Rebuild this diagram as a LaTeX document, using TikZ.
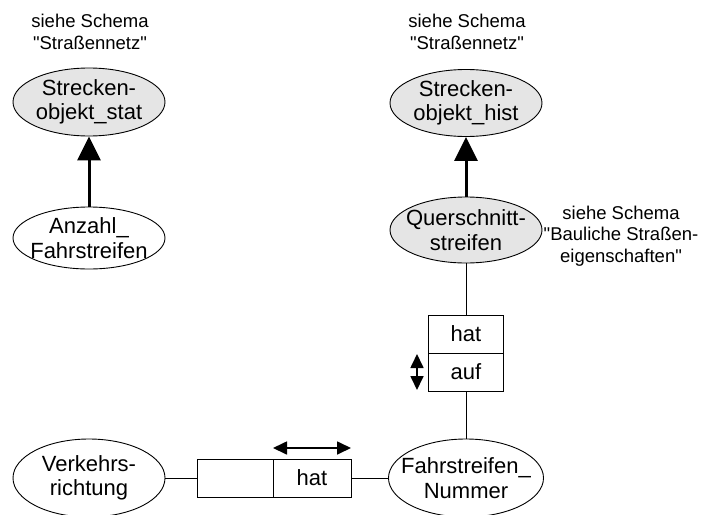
\documentclass[tikz,border=0pt]{standalone}
\usepackage{fontspec}
\setmainfont{Liberation Sans}
\usetikzlibrary{shapes.geometric,arrows.meta}

\begin{document}
\begin{tikzpicture}[x=1pt, y=-1pt, line width=0.9pt,
    ent/.style={shape=ellipse, draw, inner xsep=-10pt, inner ysep=0pt, minimum width=152pt, minimum height=68pt, align=center, font=\fontsize{22}{24.5}\selectfont},
    rel/.style={shape=rectangle, draw, minimum width=76pt, minimum height=38pt, inner sep=0pt, font=\fontsize{22}{24.5}\selectfont},
    note/.style={align=center, font=\fontsize{18.5}{21.5}\selectfont},
    isa/.style={line width=3pt, -{Triangle[length=24pt, width=23pt]}},
    twoway/.style={line width=1.7pt, {Triangle[length=14pt, width=13pt]}-{Triangle[length=14pt, width=13pt]}}]

    \useasboundingbox (0,0) rectangle (703,514);
    \clip (0,0) rectangle (703,514);

    % statisch
    \node[note] (n1) at (90, 32) {siehe Schema\\\textquotedbl Straßennetz\textquotedbl};
    \node[ent, fill=gray!20] (s1) at (89, 102) {Strecken-\\objekt\_stat};
    \node[ent, minimum height=62pt] (a1) at (89, 238) {Anzahl\_\\Fahrstreifen};

    \draw[isa] (a1) to (s1);

    % historisch
    \node[note] (n2) at (467, 32) {siehe Schema\\\textquotedbl Straßennetz\textquotedbl};
    \node[note] (n3) at (621, 236) {siehe Schema\\\textquotedbl Bauliche Straßen-\\eigenschaften\textquotedbl};
    \node[ent, fill=gray!20, minimum height=67pt] (s2) at (466, 103) {Strecken-\\objekt\_hist};
    \node[ent, fill=gray!20, minimum height=66pt] (q1) at (466, 230) {Querschnitt-\\streifen};
    \node[rel, minimum width=75pt] (r1) at (466, 334) {hat};
    \node[rel, minimum width=75pt] (r2) at (466, 372) {auf};
    \node[ent, minimum height=78pt] (f1) at (466, 478) {Fahrstreifen\_\\Nummer};
    \coordinate (d1) at (417, 354);
    \coordinate (d2) at (417, 390);

    \draw[isa] (q1) to (s2);
    \draw (q1) to (r1);
    \draw (r2) to (f1);
    \draw[twoway] (d1) to (d2);

    % Verkehrsrichtung
    \node[ent, minimum height=78pt] (v1) at (89, 478) {Verkehrs-\\richtung};
    \node[rel] (r3) at (235, 478) {};
    \node[rel, minimum width=78pt] (r4) at (312, 478) {hat};
    \coordinate (d3) at (273, 448);
    \coordinate (d4) at (351, 448);

    \draw (v1) to (r3);
    \draw (r4) to (f1);
    \draw[twoway] (d3) to (d4);
\end{tikzpicture}
\end{document}
